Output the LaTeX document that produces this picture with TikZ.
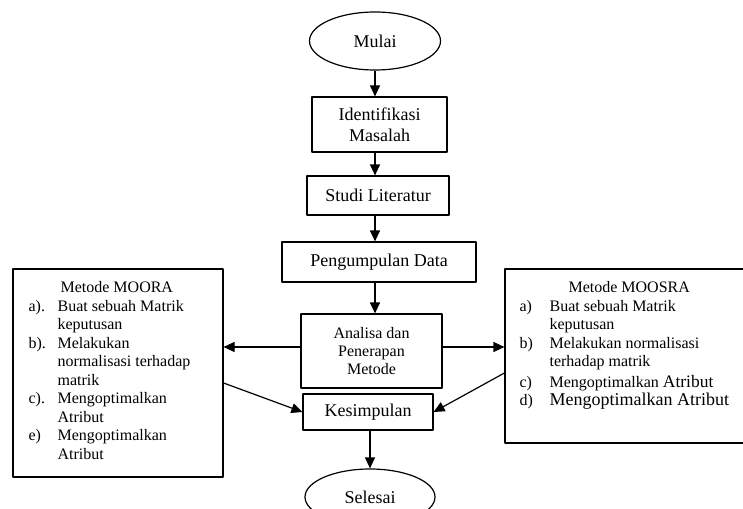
\documentclass[tikz,border=0pt]{standalone}
\usepackage{fontspec}
\setmainfont{Liberation Serif}
\usetikzlibrary{arrows.meta,shapes.geometric}
\begin{document}
\begin{tikzpicture}[x=1pt, y=-1pt, line width=1.2pt, line join=round, >={Triangle[length=11pt,width=10pt]},
	box/.style={draw, rectangle, align=center, font=\fontsize{18}{21}\selectfont},
	term/.style={draw, ellipse, inner sep=0pt, font=\fontsize{18}{21}\selectfont},
	lst/.style={inner sep=0pt, anchor=north west, align=left, font=\fontsize{16}{18.5}\selectfont}]
				\useasboundingbox (0,0) rectangle (743,508);
				\clip (0,0) rectangle (743,508);
				\node[term, minimum width=131pt, minimum height=58pt] (mulai) at (375,41) {Mulai};
				\node[box, minimum width=135pt, minimum height=55pt] (ident) at (379.5,124.5) {Identifikasi\\Masalah};
				\node[box, minimum width=142pt, minimum height=39pt] (studi) at (378,195.5) {Studi Literatur};
				\node[box, minimum width=194pt, minimum height=40pt] (kumpul) at (379,262) {Pengumpulan Data};
				\node[box, minimum width=141pt, minimum height=74pt, font=\fontsize{16}{18}\selectfont] (analisa) at (371.5,351) {Analisa dan\\Penerapan\\Metode};
				\node[box, minimum width=130pt, minimum height=36pt] (simpul) at (368,412) {Kesimpulan};
				\node[term, minimum width=130pt, minimum height=56pt] (selesai) at (370,497) {Selesai};
				\node[draw, minimum width=210pt, minimum height=208pt] (moora) at (118,373) {};
				\node[lst] (moora txt) at (28,279) {\begin{tabular}{@{}p{29pt}@{}l@{}}
						\multicolumn{2}{@{}l@{}}{\hspace{32pt}Metode MOORA}\\
						a). & Buat sebuah Matrik\\
						& keputusan\\
						b). & Melakukan\\
						& normalisasi terhadap\\
						& matrik\\
						c). & Mengoptimalkan\\
						& Atribut\\
						e) & Mengoptimalkan\\
						& Atribut
					\end{tabular}};
				\node[draw, minimum width=270pt, minimum height=174pt] (moosra) at (640,356) {};
				\node[lst] (moosra txt) at (519,279) {\begin{tabular}{@{}p{30pt}@{}l@{}}
						\multicolumn{2}{@{}l@{}}{\hspace{49pt}Metode MOOSRA}\\
						a) & Buat sebuah Matrik\\
						& keputusan\\
						b) & Melakukan normalisasi\\
						& terhadap matrik\\[2pt]
						c) & Mengoptimalkan {\fontsize{17.5}{19}\selectfont Atribut}\\
						d) & {\fontsize{18}{20}\selectfont Mengoptimalkan Atribut}
					\end{tabular}};
				\draw[->] (mulai.south) -- (ident.north -| mulai);
				\draw[->] (ident.south -| mulai) -- (studi.north -| mulai);
				\draw[->] (studi.south -| mulai) -- (kumpul.north -| mulai);
				\draw[->] (kumpul.south -| mulai) -- (analisa.north -| mulai);
				\draw[->] (simpul.south -| selesai) -- (selesai.north);
				\draw[->] ([yshift=4pt]analisa.west) -- ([yshift=4pt]analisa.west -| moora.east);
				\draw[->] ([yshift=4pt]analisa.east) -- ([yshift=4pt]analisa.east -| moosra.west);
				\draw[->] ([yshift=-10pt]moora.east) -- (simpul.west);
				\draw[->] ([yshift=-17pt]moosra.west) -- (simpul.east);
	\end{tikzpicture}
\end{document}
